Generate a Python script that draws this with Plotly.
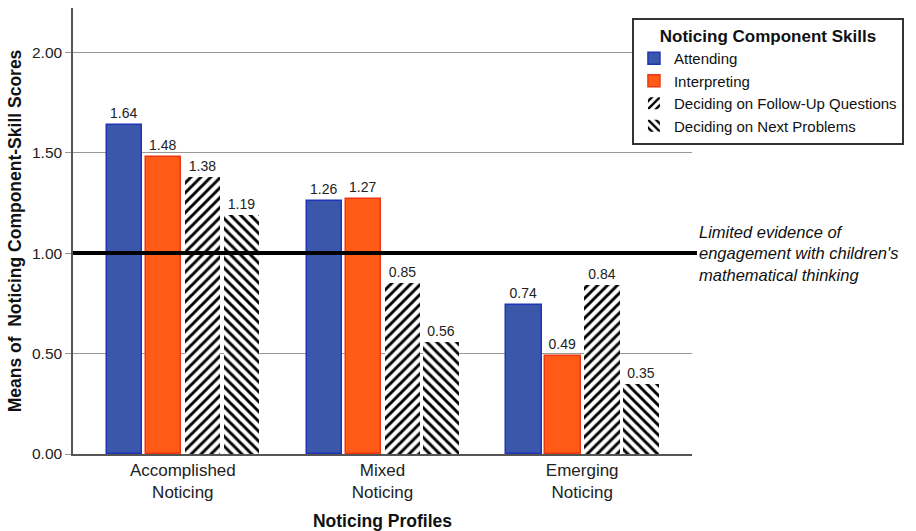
import plotly.graph_objects as go

# Noticing profiles and mean component-skill scores
profiles = ["Accomplished<br>Noticing", "Mixed<br>Noticing", "Emerging<br>Noticing"]
skills = ["Attending", "Interpreting", "Deciding on Follow-Up Questions", "Deciding on Next Problems"]
attending = [1.64, 1.26, 0.74]
interpreting = [1.48, 1.27, 0.49]
follow_up = [1.38, 0.85, 0.84]
next_problems = [1.19, 0.56, 0.35]
series_values = [attending, interpreting, follow_up, next_problems]
note_text = "Limited evidence of<br>engagement with children's<br>mathematical thinking"

FONT = "Liberation Sans, Arial, Helvetica, sans-serif"

hatch = dict(fgcolor="black", bgcolor="white", fgopacity=1, fillmode="replace",
             size=7, solidity=0.42)
styles = [
    dict(color="#3b57a9", line=dict(color="#1f34b8", width=1.5)),
    dict(color="#ff5a16", line=dict(color="#ec3812", width=1.5)),
    dict(color="white", line=dict(width=0), pattern=dict(shape="/", **hatch)),
    dict(color="white", line=dict(width=0), pattern=dict(shape="\\", **hatch)),
]
offsets = [-0.38, -0.185, 0.01, 0.205]

fig = go.Figure()
for name, vals, style, off in zip(skills, series_values, styles, offsets):
    fig.add_trace(go.Bar(
        x=[0, 1, 2], y=vals, name=name,
        marker=style, width=0.178, offset=off,
        text=[f"{v:.2f}" for v in vals], textposition="outside",
        textfont=dict(size=14, color="#222", family=FONT),
        cliponaxis=False,
    ))

# Threshold line at 1.00 with its note
fig.add_shape(type="line", xref="paper", yref="y", x0=0, x1=1.008, y0=1, y1=1,
              line=dict(color="black", width=4), layer="above")
fig.add_annotation(
    xref="paper", yref="y", x=1.008, y=1.0, xanchor="left", yanchor="middle",
    text=f"<i>{note_text}</i>", showarrow=False, align="left",
    font=dict(size=16.5, color="#111", family=FONT),
)

fig.update_layout(
    width=916, height=531,
    margin=dict(l=73, r=224, t=8, b=77),
    paper_bgcolor="white", plot_bgcolor="white",
    font=dict(family=FONT, color="#222"),
    bargap=0, showlegend=True,
    legend=dict(
        x=0.903, y=0.978, xanchor="left", yanchor="top",
        bgcolor="white", bordercolor="#333", borderwidth=2,
        title=dict(text="<b>Noticing Component Skills</b>", side="top center",
                   font=dict(size=17, color="#111", family=FONT)),
        font=dict(size=15, color="#111", family=FONT),
        tracegroupgap=0, itemwidth=30,
    ),
    xaxis=dict(
        range=[-0.55, 2.55], tickmode="array", tickvals=[0, 1, 2], ticktext=profiles,
        showline=True, linecolor="#555", linewidth=1.5, showgrid=False, ticks="",
        tickfont=dict(size=17, color="#222", family=FONT),
        automargin=False,
        title=dict(text="<b>Noticing Profiles</b>", font=dict(size=17.5, color="#111", family=FONT),
                   standoff=14),
    ),
    yaxis=dict(
        range=[0, 2.22], tickvals=[0, 0.5, 1.0, 1.5, 2.0], tickformat=".2f",
        showline=True, linecolor="#555", linewidth=1.5,
        showgrid=True, gridcolor="#999", gridwidth=1,
        ticks="outside", ticklen=6, tickcolor="#999",
        tickfont=dict(size=15.5, color="#222", family=FONT),
        zeroline=False, automargin=False,
        title=dict(text="<b>Means of  Noticing Component-Skill Scores</b>",
                   font=dict(size=17.5, color="#111", family=FONT), standoff=6),
    ),
)

fig.write_html("out.html")
